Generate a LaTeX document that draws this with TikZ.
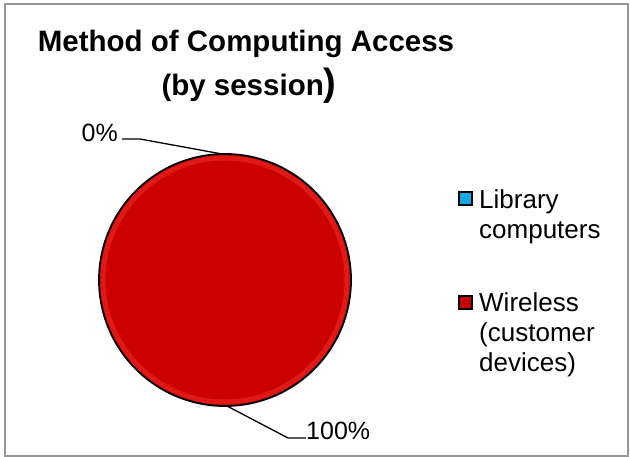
\documentclass[tikz,border=0pt]{standalone}
\usepackage{fontspec}
\setmainfont{Liberation Sans}
\begin{document}
\begin{tikzpicture}[x=1pt,y=-1pt,
  lbl/.style={font=\fontsize{25}{30}\selectfont, inner sep=0pt},
  legtext/.style={font=\fontsize{26}{30}\selectfont, inner sep=0pt, align=left, anchor=north west},
  keybox/.style={draw=black, line width=2pt, minimum size=13pt, inner sep=0pt},
  leader/.style={draw=black, line width=1.3pt}
]
\definecolor{pieRed}{RGB}{205,0,0}
\definecolor{pieRim}{RGB}{235,40,40}
\definecolor{keyBlue}{RGB}{20,170,230}
\definecolor{keyRed}{RGB}{200,0,0}
\definecolor{frameGray}{RGB}{150,150,150}
\useasboundingbox (0,0) rectangle (630,457);
% chart border
\draw[frameGray, line width=2pt] (5,4) rectangle (628,456);
% title
\node[font=\bfseries\fontsize{29.5}{34}\selectfont, inner sep=0pt] (title1) at (246,44) {Method of Computing Access};
\node[font=\bfseries\fontsize{29.5}{34}\selectfont, inner sep=0pt] (title2) at (249,86) {(by session\fontsize{38}{38}\selectfont)};
% pie (single full slice) with a bevelled rim
\fill[pieRed] (225,280) circle (126);
\draw[pieRim, line width=5pt, opacity=0.6] (225,280) circle (122);
\draw[black, line width=1.8pt] (225,280) circle (126);
\coordinate (topEdge) at (222,154);
\coordinate (botEdge) at (227,406);
% data labels
\node[lbl, anchor=east] (zero) at (118,133) {0\%};
\node[lbl, anchor=west] (hundred) at (306,431) {100\%};
\coordinate (zeroKnee) at (140,139);
\coordinate (hundredKnee) at (288,438);
\draw[leader] (zero.east |- zeroKnee) ++(4,0) -- (zeroKnee) -- (topEdge);
\draw[leader] (botEdge) -- (hundredKnee) -- (hundred.west |- hundredKnee) ++(-3,0);
% legend
\node[keybox, fill=keyBlue] (keyA) at (465,199) {};
\node[legtext] (textA) at (479,189) {Library\\computers};
\node[keybox, fill=keyRed] (keyB) at (465,303) {};
\node[legtext] (textB) at (479,292) {Wireless\\(customer\\devices)};
\end{tikzpicture}
\end{document}
